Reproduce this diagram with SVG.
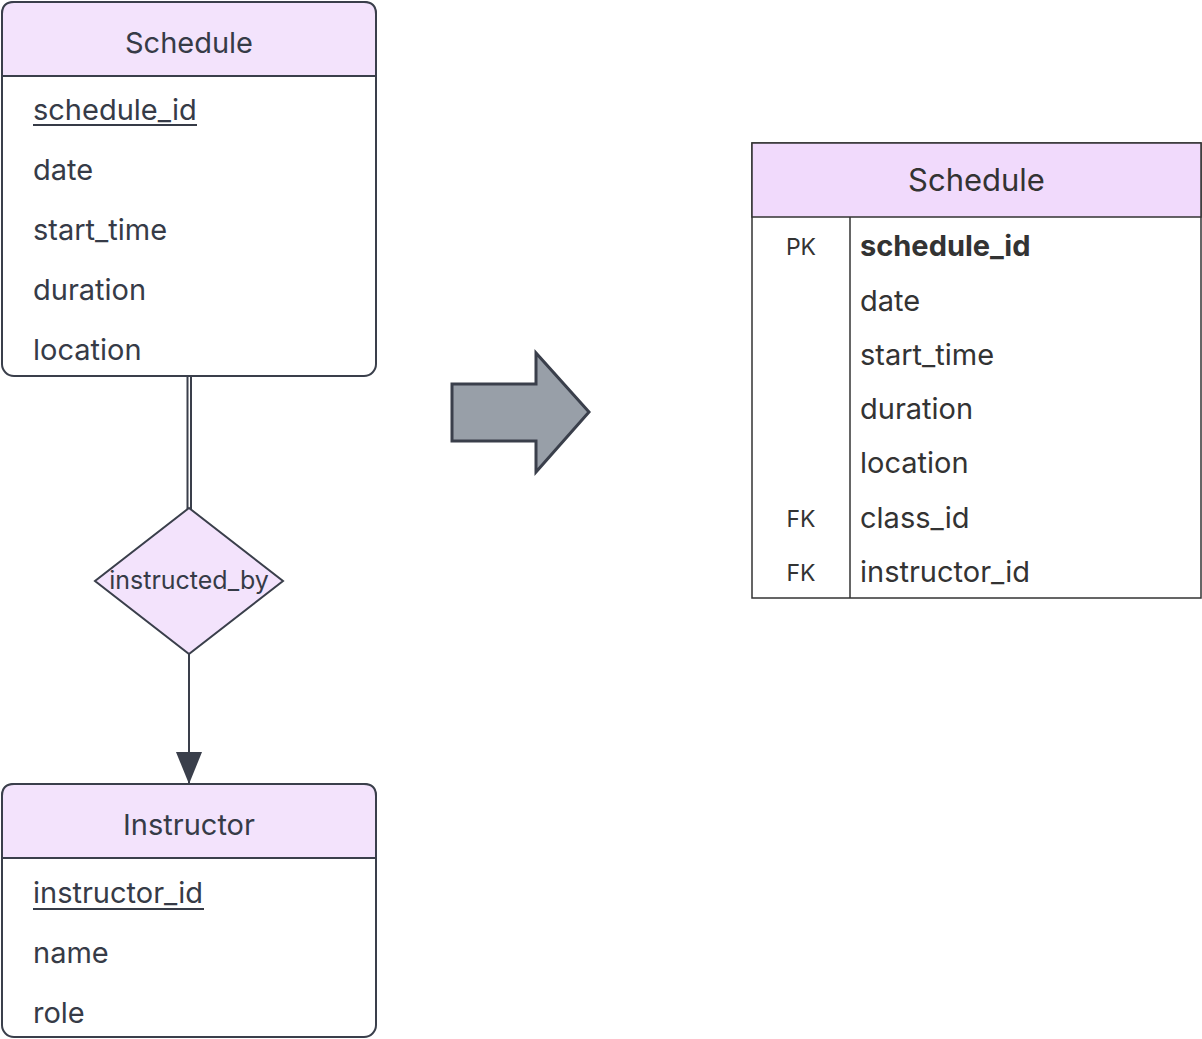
<svg xmlns="http://www.w3.org/2000/svg" width="1202" height="1039" viewBox="0 0 1202 1039">
<defs>
<style>
.box{fill:#ffffff;stroke:#3a3f4b;stroke-width:2}
.hdr{fill:#f3e3fc;stroke:#3a3f4b;stroke-width:2}
.t{font-family:Inter,"Liberation Sans",sans-serif;font-size:29px;fill:#363b47}
.tc{text-anchor:middle}
.lbl{font-family:Inter,"Liberation Sans",sans-serif;font-size:25px;fill:#363b47;text-anchor:middle}
.line{stroke:#3a3f4b;stroke-width:2;fill:none}
.r{font-family:Inter,"Liberation Sans",sans-serif;font-size:29px;fill:#333333}
.rh{font-family:Inter,"Liberation Sans",sans-serif;font-size:31px;fill:#333333;text-anchor:middle}
.k{font-family:Inter,"Liberation Sans",sans-serif;font-size:23px;fill:#333333;text-anchor:middle}
</style>
<marker id="tri" viewBox="0 0 32 26" refX="32" refY="13" markerWidth="32" markerHeight="26" markerUnits="userSpaceOnUse" orient="auto">
<path d="M0,0 L32,13 L0,26 Z" fill="#3a3f4b"/>
</marker>
</defs>
<rect width="1202" height="1039" fill="#ffffff"/>

<g id="connectors">
<line class="line" x1="187.5" y1="377" x2="187.5" y2="510" stroke-width="1.5"/>
<line class="line" x1="191" y1="377" x2="191" y2="510" stroke-width="1.5"/>
<line class="line" x1="189" y1="654" x2="189" y2="784" marker-end="url(#tri)"/>
</g>

<g id="schedule-entity">
<rect class="box" x="2" y="2" width="374" height="374" rx="12"/>
<path class="hdr" d="M2,76 L2,14 Q2,2 14,2 L364,2 Q376,2 376,14 L376,76 Z"/>
<text class="t tc" x="189" y="53">Schedule</text>
<text class="t" x="33" y="120">schedule_id</text>
<line x1="33" y1="125" x2="197" y2="125" stroke="#363b47" stroke-width="2"/>
<text class="t" x="33" y="180">date</text>
<text class="t" x="33" y="240">start_time</text>
<text class="t" x="33" y="300">duration</text>
<text class="t" x="33" y="360">location</text>
</g>

<g id="instructed-by">
<polygon points="189,508 283,581 189,654 95,581" fill="#f3e3fc" stroke="#3a3f4b" stroke-width="2"/>
<text class="lbl" x="189" y="589">instructed_by</text>
</g>

<g id="instructor-entity">
<rect class="box" x="2" y="784" width="374" height="253" rx="12"/>
<path class="hdr" d="M2,858 L2,796 Q2,784 14,784 L364,784 Q376,784 376,796 L376,858 Z"/>
<text class="t tc" x="189" y="835">Instructor</text>
<text class="t" x="33" y="903">instructor_id</text>
<line x1="33" y1="909" x2="204" y2="909" stroke="#363b47" stroke-width="2"/>
<text class="t" x="33" y="963">name</text>
<text class="t" x="33" y="1023">role</text>
</g>

<g id="transform-arrow">
<polygon points="452,384 536,384 536,353 589,412 536,472 536,441 452,441" fill="#989fa8" stroke="#3a3f4b" stroke-width="3" stroke-linejoin="miter"/>
</g>

<g id="schedule-table">
<rect x="752" y="143" width="449" height="455" fill="#ffffff" stroke="#333333" stroke-width="1.5"/>
<rect x="752" y="143" width="449" height="74" fill="#f1dafc" stroke="#333333" stroke-width="1.5"/>
<line x1="850" y1="217" x2="850" y2="598" stroke="#333333" stroke-width="1.5"/>
<text class="rh" x="976.5" y="191">Schedule</text>
<text class="k" x="801" y="255">PK</text>
<text class="r" x="860" y="256" style="font-weight:bold">schedule_id</text>
<text class="r" x="860" y="311">date</text>
<text class="r" x="860" y="365">start_time</text>
<text class="r" x="860" y="419">duration</text>
<text class="r" x="860" y="473">location</text>
<text class="k" x="801" y="527">FK</text>
<text class="r" x="860" y="528">class_id</text>
<text class="k" x="801" y="581">FK</text>
<text class="r" x="860" y="582">instructor_id</text>
</g>
</svg>
